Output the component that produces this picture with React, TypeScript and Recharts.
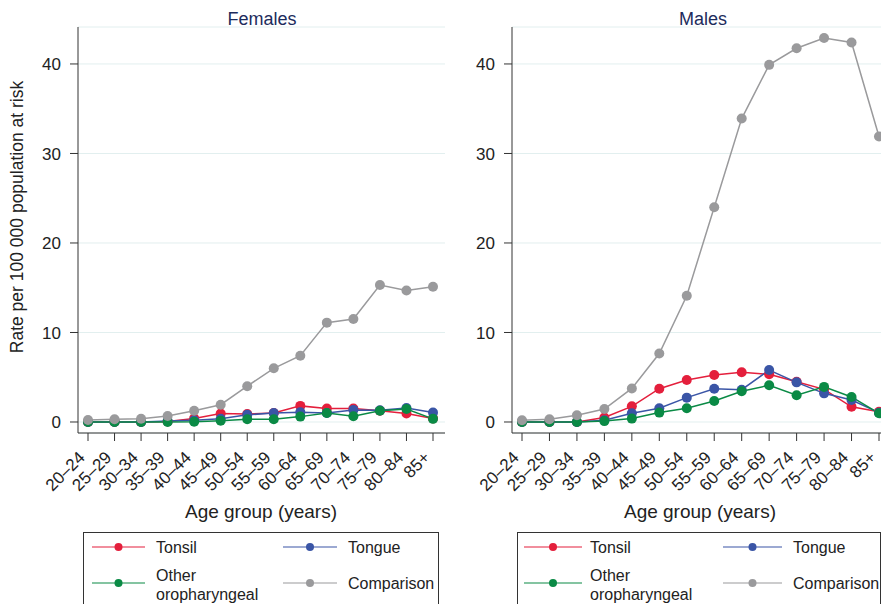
import React from 'react';
import { CartesianGrid, Line, LineChart, XAxis, YAxis } from 'recharts';

const ageGroups = ['20–24', '25–29', '30–34', '35–39', '40–44', '45–49', '50–54', '55–59', '60–64', '65–69', '70–74', '75–79', '80–84', '85+'];
const yTicks = [0, 10, 20, 30, 40];

const femaleTonsil = [0, 0, 0, 0.05, 0.4, 0.95, 0.9, 1.0, 1.8, 1.5, 1.5, 1.25, 0.95, 0.4];
const femaleTongue = [0, 0, 0, 0.1, 0.2, 0.35, 0.8, 1.0, 1.1, 1.0, 1.35, 1.3, 1.55, 1.05];
const femaleOther = [0, 0, 0, 0, 0.02, 0.15, 0.3, 0.3, 0.6, 1.0, 0.65, 1.25, 1.45, 0.35];
const femaleComparison = [0.22, 0.3, 0.37, 0.67, 1.26, 1.93, 4.0, 6.0, 7.4, 11.1, 11.5, 15.3, 14.7, 15.1];

const maleTonsil = [0, 0, 0, 0.5, 1.75, 3.72, 4.7, 5.25, 5.55, 5.33, 4.5, 3.65, 1.7, 1.15];
const maleTongue = [0, 0, 0, 0.2, 0.97, 1.53, 2.72, 3.72, 3.61, 5.8, 4.43, 3.2, 2.45, 1.04];
const maleOther = [0, 0, 0, 0.1, 0.38, 1.05, 1.53, 2.34, 3.43, 4.1, 2.98, 3.92, 2.8, 0.97];
const maleComparison = [0.19, 0.3, 0.75, 1.45, 3.75, 7.65, 14.1, 24.0, 33.9, 39.9, 41.75, 42.9, 42.4, 31.9];

const font = '"Liberation Sans", Arial, Helvetica, sans-serif';
const ink = '#222';

const series = [
  { key: 'tonsil', name: 'Tonsil', color: '#e41f3c' },
  { key: 'tongue', name: 'Tongue', color: '#3a55a6' },
  { key: 'other', name: 'Other oropharyngeal', color: '#0a8a45' },
  { key: 'comparison', name: 'Comparison', color: '#9a9a9c' },
];

const build = (tonsil: number[], tongue: number[], other: number[], comparison: number[]) =>
  ageGroups.map((age, i) => ({ age, tonsil: tonsil[i], tongue: tongue[i], other: other[i], comparison: comparison[i] }));

const femaleData = build(femaleTonsil, femaleTongue, femaleOther, femaleComparison);
const maleData = build(maleTonsil, maleTongue, maleOther, maleComparison);

const AgeTick = ({ x, y, payload }: any) => {
  const px = x - 2;
  const py = y + 17.5;
  return (
    <text x={px} y={py} transform={`rotate(-45, ${px}, ${py})`} textAnchor="end" fontSize={17} fill={ink} fontFamily={font}>
      {payload.value}
    </text>
  );
};

function Panel({ data, width, axisWidth, padRight }: { data: any[]; width: number; axisWidth: number; padRight: number }) {
  return (
    <LineChart width={width} height={604} data={data} margin={{ top: 27, right: 0, left: 0, bottom: 91 }}>
      <CartesianGrid horizontal vertical={false} stroke="#e2efef" />
      <XAxis
        dataKey="age"
        interval={0}
        height={80}
        padding={{ left: 10, right: padRight }}
        tick={<AgeTick />}
        tickSize={8}
        tickMargin={0}
        stroke="#333"
      />
      <YAxis
        width={axisWidth}
        domain={[-1.23, 44.13]}
        ticks={yTicks}
        allowDataOverflow
        tickSize={8}
        tickMargin={9}
        stroke="#333"
        tick={{ fontSize: 17, fill: ink, fontFamily: font }}
      />
      {series.map((s) => (
        <Line
          key={s.key}
          dataKey={s.key}
          stroke={s.color}
          strokeWidth={1.5}
          dot={{ r: 5, fill: s.color, stroke: 'none' }}
          activeDot={false}
          isAnimationActive={false}
          type="linear"
        />
      ))}
    </LineChart>
  );
}

function LegendBox({ x, width, col1, col2 }: { x: number; width: number; col1: number[]; col2: number[] }) {
  const rows = [547, 583];
  const item = (s: any, cols: number[], row: number) => (
    <g key={s.key}>
      <line x1={cols[0]} x2={cols[1]} y1={row} y2={row} stroke={s.color} strokeWidth={1.2} />
      <circle cx={(cols[0] + cols[1]) / 2} cy={row} r={4} fill={s.color} />
    </g>
  );
  return (
    <g fontFamily={font} fontSize={16} fill={ink}>
      <rect x={x + 0.5} y={532.5} width={width} height={90} fill="none" stroke="#333" strokeWidth={1} />
      {item(series[0], col1, rows[0])}
      <text x={col1[2]} y={rows[0] + 6}>Tonsil</text>
      {item(series[1], col2, rows[0])}
      <text x={col2[2]} y={rows[0] + 6}>Tongue</text>
      {item(series[2], col1, rows[1])}
      <text x={col1[2]} y={575 + 6}>Other</text>
      <text x={col1[2]} y={594 + 6}>oropharyngeal</text>
      {item(series[3], col2, rows[1])}
      <text x={col2[2]} y={rows[1] + 6}>Comparison</text>
    </g>
  );
}

export default function App() {
  return (
    <div style={{ position: 'absolute', left: 0, top: 0, width: 881, height: 604, overflow: 'hidden', background: '#fff' }}>
      <div style={{ position: 'absolute', left: 0, top: 0 }}>
        <Panel data={femaleData} width={445} axisWidth={78} padRight={12} />
      </div>
      <div style={{ position: 'absolute', left: 445, top: 0 }}>
        <Panel data={maleData} width={436} axisWidth={67} padRight={2} />
      </div>
      <svg width={881} height={604} style={{ position: 'absolute', left: 0, top: 0, pointerEvents: 'none' }}>
        <g fontFamily={font} fontSize={18} fill="#1c2b5c" textAnchor="middle">
          <text x={262} y={25}>Females</text>
          <text x={703} y={25}>Males</text>
        </g>
        <g fontFamily={font} fontSize={19} fill={ink} textAnchor="middle">
          <text x={261} y={518}>Age group (years)</text>
          <text x={700} y={518}>Age group (years)</text>
        </g>
        <text x={23} y={217} transform="rotate(-90, 23, 217)" textAnchor="middle" fontFamily={font} fontSize={17.5} fill={ink}>
          Rate per 100 000 population at risk
        </text>
        <LegendBox x={83} width={355} col1={[92, 145, 156]} col2={[283, 337, 348]} />
        <LegendBox x={517} width={363} col1={[524, 582, 590]} col2={[723, 782, 793]} />
      </svg>
    </div>
  );
}
